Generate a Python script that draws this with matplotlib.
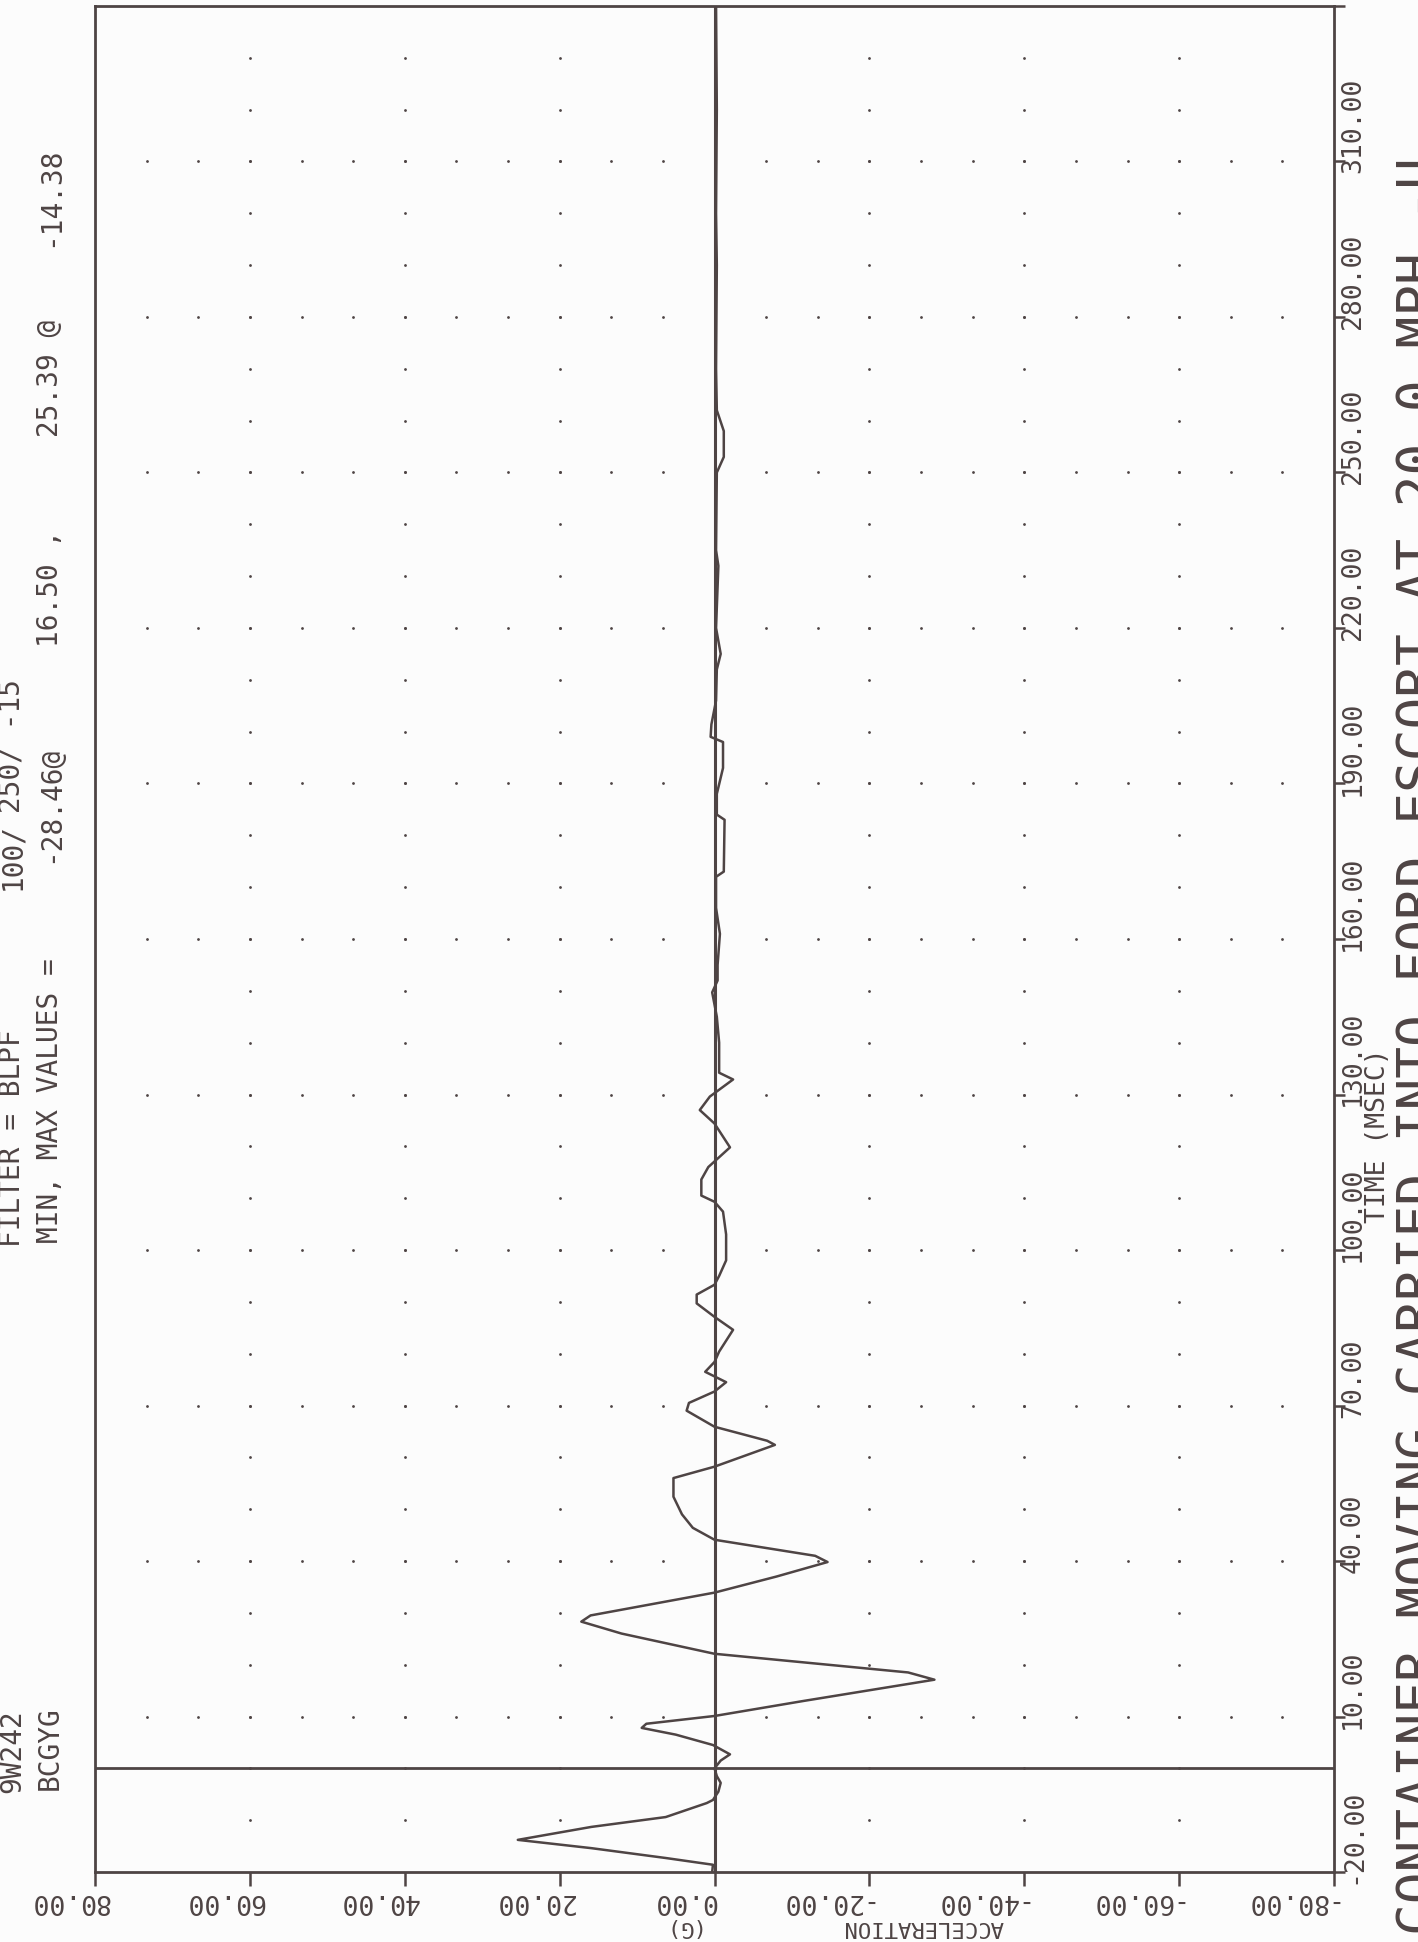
import numpy as np
import matplotlib
matplotlib.use("Agg")
import matplotlib.pyplot as plt
from matplotlib.transforms import offset_copy

# chart values
time_ms = [-20, -18.6, -17.3, -15.4, -13.8, -11.3, -9.4, -6.7, -6.1, -4.5, -2.8, -1.5, 0,
           1.5, 2.7, 4.5, 6.5, 7.8, 8.6, 10.1, 13.0, 17.1, 18.5, 22.1, 26.0, 28.3, 29.5,
           33.9, 37.0, 39.8, 41.0, 44.1, 46.4, 49.0, 52.4, 56.0, 58.2, 62.4, 63.2, 65.9,
           69.0, 70.5, 72.7, 74.5, 76.5, 78.4, 80.4, 84.6, 87.1, 89.7, 91.4, 93.3, 95.0,
           98.0, 103.0, 107.4, 109.3, 110.5, 113.6, 116.0, 119.8, 124.4, 127.0, 129.6,
           132.9, 134.2, 140.0, 145.0, 149.7, 152.0, 155.0, 161.0, 166.0, 172.0, 173.0,
           183.0, 184.0, 188.0, 193.0, 198.0, 199.0, 201.4, 206.0, 212.0, 215.0, 220.0,
           232.0, 235.0, 250.0, 253.0, 258.0, 262.0, 270.0, 290.0, 300.0, 320.0, 340.0]
accel_g = [0.3, 0.2, 6.3, 15.9, 25.4, 15.9, 6.3, 1.0, 0.2, -0.5, -0.8, -0.3, 0.0,
           -0.8, -2.0, 0.2, 5.0, 9.4, 8.8, 0.0, -11.5, -28.4, -25.0, 0.0, 12.0, 17.2, 16.0,
           0.0, -8.0, -14.6, -13.0, 0.0, 2.8, 4.2, 5.3, 5.3, 0.0, -7.8, -6.8, 0.0,
           3.6, 3.3, 0.0, -1.5, 1.2, 0.0, -0.6, -2.4, 0.0, 2.3, 2.3, 0.0, -0.6,
           -1.5, -1.5, -1.1, 0.0, 1.7, 1.7, 0.8, -2.0, 0.0, 1.9, 0.6,
           -2.4, -0.6, -0.6, -0.3, 0.3, -0.4, -0.4, -0.7, -0.2, -0.2, -1.2,
           -1.3, -0.3, -0.3, -1.1, -1.1, 0.5, 0.4, -0.2, -0.3, -0.8, -0.2,
           -0.5, -0.2, -0.3, -1.2, -1.2, -0.3, -0.2, -0.3, -0.2, -0.3, -0.2]

accel_ticks = [80, 60, 40, 20, 0, -20, -40, -60, -80]
time_ticks = [-20, 10, 40, 70, 100, 130, 160, 190, 220, 250, 280, 310, 340]
time_labels = ["-20.00", "10.00", "40.00", "70.00", "100.00", "130.00", "160.00",
               "190.00", "220.00", "250.00", "280.00", "310.00", ""]

header_1 = [("9W242", 1793), ("FILTER = BLPF", 1247), ("100/", 890), ("250/ -15", 813)]
header_2 = [("BCGYG", 1790), ("MIN, MAX VALUES =", 1243), ("-28.46@", 863),
            ("16.50 ,", 647), ("25.39 @", 437), ("-14.38", 247)]
title = "CONTAINER MOVING CARRIED INTO FORD ESCORT AT 20.0 MPH -U"

ink = "#4e4444"
mono = "DejaVu Sans Mono"
W, H = 1418, 1942

fig = plt.figure(figsize=(W / 100, H / 100), dpi=100, facecolor="#fcfcfc")


def fx(px):
    return px / W


def fy(py):
    return 1 - py / H


def side_text(x, y, s, size, va="center"):
    # text that reads upward, starting at pixel (x, y)
    fig.text(fx(x), fy(y), s, rotation=90, rotation_mode="anchor", ha="left",
             va=va, fontsize=size, family=mono, color=ink)


ax = fig.add_axes([fx(95), fy(1872), fx(1334) - fx(95), fy(6) - fy(1872)])
ax.set_facecolor("#fcfcfc")
ax.set_xlim(80, -80)
ax.set_ylim(-20, 340)

for s in ax.spines.values():
    s.set_color(ink)
    s.set_linewidth(2.0)

ax.set_xticks(accel_ticks)
ax.set_yticks(time_ticks)
ax.tick_params(axis="x", direction="out", length=10, width=1.8, color=ink,
               labelbottom=False)
ax.tick_params(axis="y", direction="out", length=8, width=1.8, color=ink,
               left=False, right=True, labelleft=False)

# dotted grid: rows at time ticks, columns at acceleration ticks
row_x = np.arange(80, -80.01, -20 / 3)
for t in time_ticks[1:-1]:
    ax.scatter(row_x[1:-1], [t] * len(row_x[1:-1]), s=4, color=ink, lw=0, zorder=1)
col_t = np.arange(-20, 340.1, 10)
for a in accel_ticks[1:-1]:
    ax.scatter([a] * len(col_t[1:-1]), col_t[1:-1], s=4, color=ink, lw=0, zorder=1)

ax.axvline(0, color=ink, lw=2.2, zorder=2)
ax.axhline(0, color=ink, lw=2.0, zorder=2)
ax.plot(accel_g, time_ms, color=ink, lw=1.8, zorder=3)

# bottom labels, upside down
xt = ax.get_xaxis_transform()
for a in accel_ticks:
    dx = 14 if a > 0 else 2
    tr = offset_copy(xt, fig=fig, x=dx, y=0, units="dots")
    ax.text(a, -0.0155, f"{a:.2f}", transform=tr, rotation=180, rotation_mode="anchor",
            ha="left", va="center", fontsize=19, family=mono, color=ink)
for s, x in [("(G)", 698), ("ACCELERATION", 1004)]:
    fig.text(fx(x), fy(1927), s, rotation=180, rotation_mode="anchor", ha="left",
             va="center", fontsize=16, family=mono, color=ink)

# right labels, reading upward
yt = ax.get_yaxis_transform()
tr = offset_copy(yt, fig=fig, x=0, y=-12, units="dots")
for t, lab in zip(time_ticks, time_labels):
    ax.text((1353 - 95) / 1239, t, lab, transform=tr, rotation=90,
            rotation_mode="anchor", ha="left", va="center", fontsize=19,
            family=mono, color=ink, clip_on=False)
side_text(1378, 1223, "TIME (MSEC)", 19)
side_text(1436, 1935, title, 38, va="baseline")

for txt, y in header_1:
    side_text(12, y, txt, 20)
for txt, y in header_2:
    side_text(50, y, txt, 20)

fig.savefig("out.png", dpi=100, facecolor=fig.get_facecolor())
